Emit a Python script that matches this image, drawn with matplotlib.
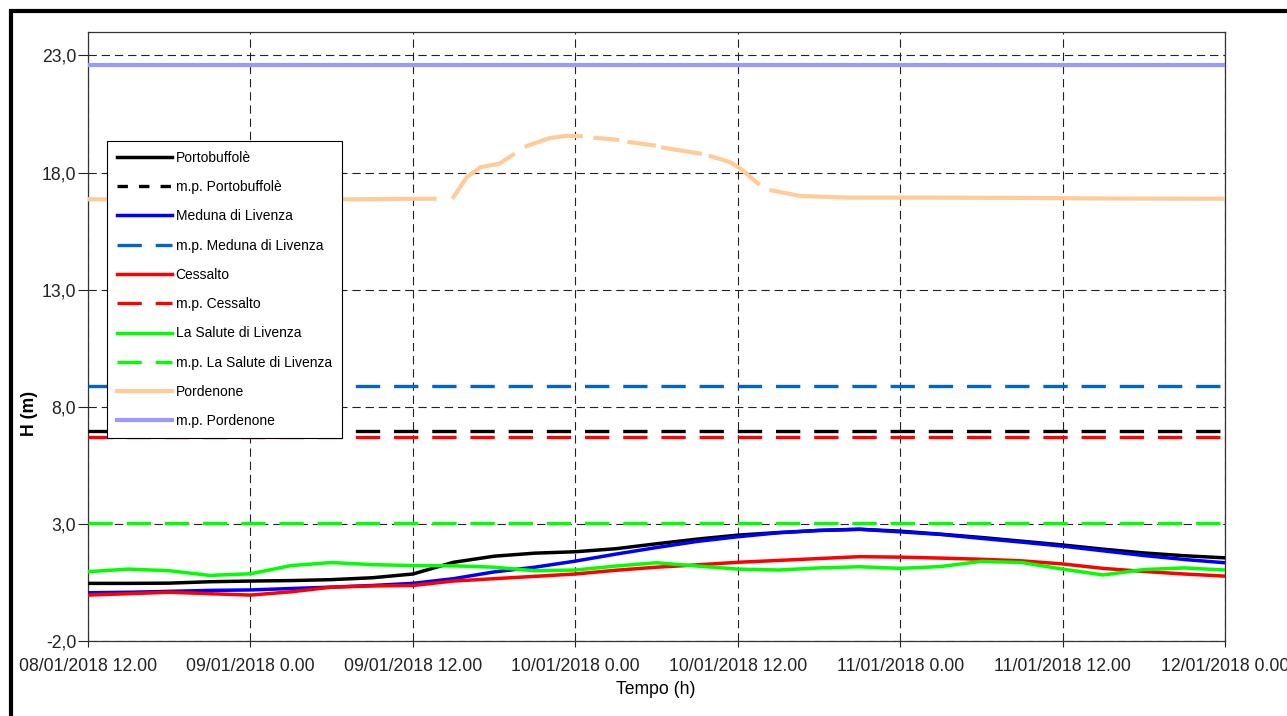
import numpy as np
import matplotlib
matplotlib.use("Agg")
import matplotlib.pyplot as plt
from matplotlib.lines import Line2D
from matplotlib.patches import Rectangle

plt.rcParams['font.family'] = ['Liberation Sans', 'DejaVu Sans']
plt.rcParams['lines.scale_dashes'] = False

# hours after 08/01/2018 12.00
hours = [0, 3, 6, 9, 12, 15, 18, 21, 24, 27, 30, 33, 36, 39, 42,
         45, 48, 51, 54, 57, 60, 63, 66, 69, 72, 75, 78, 81, 84]

portobuffole = [0.46, 0.46, 0.47, 0.53, 0.56, 0.58, 0.62, 0.70, 0.86, 1.36, 1.62, 1.75, 1.81, 1.94, 2.15,
                2.35, 2.52, 2.63, 2.72, 2.77, 2.69, 2.56, 2.42, 2.26, 2.10, 1.92, 1.76, 1.64, 1.55]
meduna = [0.06, 0.08, 0.12, 0.16, 0.18, 0.24, 0.30, 0.37, 0.46, 0.66, 0.95, 1.15, 1.41, 1.71, 1.99,
          2.25, 2.45, 2.62, 2.72, 2.77, 2.66, 2.55, 2.38, 2.22, 2.05, 1.85, 1.65, 1.48, 1.34]
cessalto = [-0.04, 0.02, 0.08, 0.02, -0.04, 0.10, 0.30, 0.35, 0.37, 0.56, 0.66, 0.76, 0.86, 1.02, 1.15,
            1.25, 1.36, 1.44, 1.52, 1.60, 1.58, 1.54, 1.49, 1.42, 1.29, 1.10, 0.97, 0.86, 0.77]
la_salute = [0.96, 1.07, 1.00, 0.80, 0.87, 1.22, 1.35, 1.26, 1.22, 1.21, 1.15, 1.00, 1.03, 1.20, 1.34,
             1.20, 1.07, 1.03, 1.12, 1.17, 1.10, 1.18, 1.40, 1.35, 1.07, 0.82, 1.05, 1.12, 1.03]

# Pordenone has missing data (nan = gap)
pn_hours = [0, 6, 12, 18, 24, 25.6, 26.3, 27.0, 27.5, 28.0, 29.0, 30.4, 31.4, 31.9, 32.4, 34.1, 35.4, 36.4,
            37.0, 37.5, 39.1, 39.5, 40.0, 41.8, 42.1, 42.5, 45.2, 45.6, 46.0, 47.4, 48.2, 49.5, 50.0,
            50.5, 51.1, 52.6, 56, 61, 68, 75.7, 84]
pordenone = [16.86, 16.84, 16.86, 16.85, 16.88, 16.88, np.nan, 16.95, 17.38, 17.81, 18.23, 18.38, 18.76, np.nan,
             19.13, 19.47, 19.57, 19.55, np.nan, 19.48, 19.40, np.nan, 19.30, 19.16, np.nan, 19.06, 18.81,
             np.nan, 18.70, 18.45, 18.17, 17.53, np.nan, 17.24, 17.17, 17.00, 16.93, 16.93, 16.92, 16.89, 16.88]

# m.p. levels
mp_portobuffole = 6.96
mp_meduna = 8.88
mp_cessalto = 6.70
mp_la_salute = 3.03
mp_pordenone = 22.57

x_ticks = [0, 12, 24, 36, 48, 60, 72, 84]
x_labels = ['08/01/2018 12.00', '09/01/2018 0.00', '09/01/2018 12.00', '10/01/2018 0.00',
            '10/01/2018 12.00', '11/01/2018 0.00', '11/01/2018 12.00', '12/01/2018 0.00']
y_ticks = [-2, 3, 8, 13, 18, 23]
y_labels = ['-2,0', '3,0', '8,0', '13,0', '18,0', '23,0']

W, H = 1287, 716
fig = plt.figure(figsize=(W / 100, H / 100), dpi=100)
ax = fig.add_axes([88 / W, 1 - 641 / H, (1225 - 88) / W, (641 - 32) / H])

mp_dash = (0, (17.5, 10))
ax.axhline(mp_pordenone, color='#9999FF', lw=3, zorder=3)
ax.plot(pn_hours, pordenone, color='#FFCC99', lw=3, zorder=3)
ax.axhline(mp_meduna, color='#0066CC', lw=2.4, ls=mp_dash, zorder=3)
ax.axhline(mp_portobuffole, color='black', lw=2.4, ls=mp_dash, zorder=3)
ax.axhline(mp_cessalto, color='#FF0000', lw=2.4, ls=mp_dash, zorder=3)
ax.axhline(mp_la_salute, color='#00FF00', lw=2.4, ls=mp_dash, zorder=3)
ax.plot(hours, portobuffole, color='black', lw=2.5, zorder=4)
ax.plot(hours, meduna, color='#0000FF', lw=2.5, zorder=4)
ax.plot(hours, cessalto, color='#FF0000', lw=2.5, zorder=4)
ax.plot(hours, la_salute, color='#00FF00', lw=2.5, zorder=4)

ax.set_xlim(0, 84)
ax.set_ylim(-2, 24)
ax.set_xticks(x_ticks)
ax.set_xticklabels(x_labels)
ax.set_yticks(y_ticks)
ax.set_yticklabels(y_labels)
ax.tick_params(axis='x', direction='out', length=4.5, width=0.8, pad=8, labelsize=12.7, colors='#222222')
ax.tick_params(axis='y', direction='out', length=7, width=0.8, pad=1.5, labelsize=12.7, colors='#222222')
ax.grid(True, color='#222222', linestyle=(0, (6, 3.5)), linewidth=0.8, zorder=1)
ax.set_axisbelow(True)
for s in ax.spines.values():
    s.set_color('#333333')
    s.set_linewidth(0.9)

fig.text(30 / W, 1 - 413 / H, 'H (m)', rotation=90, ha='center', va='center',
         fontsize=12.7, fontweight='bold')
fig.text(656 / W, 1 - 690 / H, 'Tempo (h)', ha='center', va='center', fontsize=12.7)

# legend
names = ['Portobuffolè', 'm.p. Portobuffolè', 'Meduna di Livenza', 'm.p. Meduna di Livenza',
         'Cessalto', 'm.p. Cessalto', 'La Salute di Livenza', 'm.p. La Salute di Livenza',
         'Pordenone', 'm.p. Pordenone']
handles = [
    Line2D([], [], color='black', lw=2.5),
    Line2D([], [], color='black', lw=2.4, ls=(0, (7.5, 8))),
    Line2D([], [], color='#0000FF', lw=2.5),
    Line2D([], [], color='#0066CC', lw=2.4, ls=(0, (17.5, 10))),
    Line2D([], [], color='#FF0000', lw=2.5),
    Line2D([], [], color='#FF0000', lw=2.4, ls=(0, (17.5, 10))),
    Line2D([], [], color='#00FF00', lw=2.5),
    Line2D([], [], color='#00FF00', lw=2.4, ls=(0, (17.5, 10))),
    Line2D([], [], color='#FFCC99', lw=3),
    Line2D([], [], color='#9999FF', lw=3),
]
leg = ax.legend(handles, names, loc='upper left', bbox_to_anchor=(107 / W, 1 - 141 / H),
                bbox_transform=fig.transFigure, borderaxespad=0, fontsize=10,
                handlelength=3.95, handletextpad=0.3, labelspacing=1.1, borderpad=0.7,
                fancybox=False, framealpha=1, edgecolor='black')
leg.get_frame().set_linewidth(0.8)
leg.set_zorder(10)

# outer frame
fig.patches.append(Rectangle((11 / W, -0.2), 1.3, 1 - 11 / H + 0.2, transform=fig.transFigure,
                             fill=False, edgecolor='black', lw=3))

fig.savefig('out.png', dpi=100)
